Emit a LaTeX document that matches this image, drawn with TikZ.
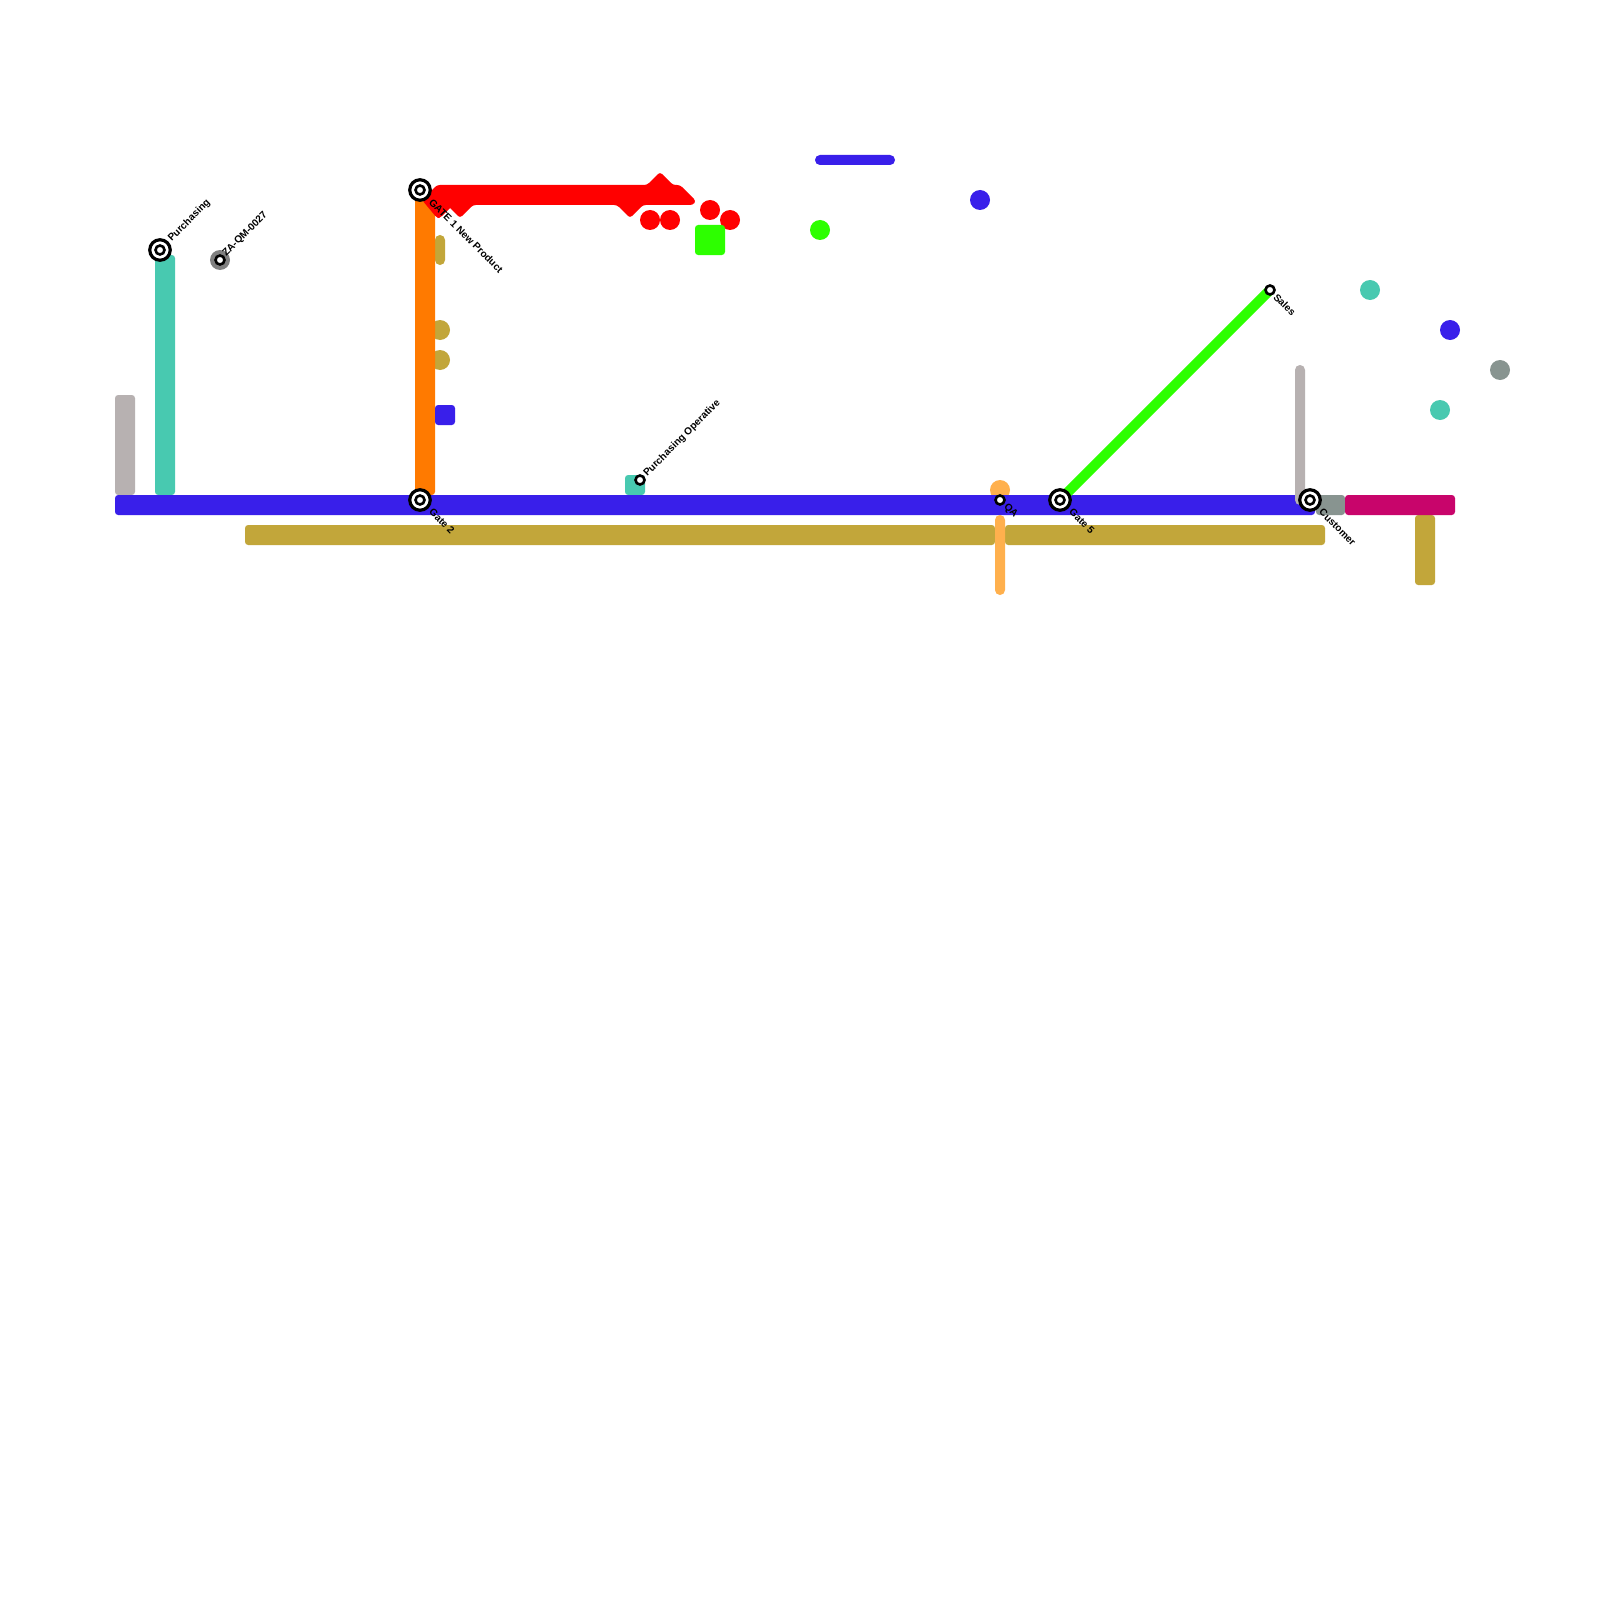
\documentclass[tikz,border=0pt]{standalone}
\usepackage{fontspec}
\setmainfont{Liberation Sans}
\definecolor{lineblue}{HTML}{391FEA}
\definecolor{lineteal}{HTML}{48C9B0}
\definecolor{linegrey}{HTML}{B7B1B1}
\definecolor{lineorange}{HTML}{FF7A00}
\definecolor{linered}{HTML}{FF0000}
\definecolor{lineolive}{HTML}{C2A63A}
\definecolor{linepeach}{HTML}{FFB04D}
\definecolor{linegreen}{HTML}{2DFF00}
\definecolor{linesage}{HTML}{889490}
\definecolor{linemagenta}{HTML}{C8056B}
\tikzset{
  bar/.style={rounded corners=0.9pt},
  thinbar/.style={rounded corners=1.4pt},
  stnring/.style={circle,draw=black,fill=white,line width=0.032cm,minimum size=0.205cm,inner sep=0pt},
  stndot/.style={circle,draw=black,fill=white,line width=0.026cm,minimum size=0.09cm,inner sep=0pt},
  stnlabel/.style={font=\bfseries\fontsize{2.85}{3.5}\selectfont,inner sep=0pt,anchor=west,text=black},
}
\newcommand{\gatestn}[2]{\node[stnring](#1)at(#2){};\node[stndot](#1dot)at(#1){};}
\begin{document}
\begin{tikzpicture}[x=0.01cm,y=-0.01cm]
\useasboundingbox(0,0)rectangle(1600,1600);
\fill[white](0,0)rectangle(1600,1600);
% bars
\fill[linegrey,bar](115,395)rectangle(135,495);
\fill[lineteal,bar](155,255)rectangle(175,495);
\fill[lineolive,bar](245,525)rectangle(995,545);
\fill[lineolive,bar](1005,525)rectangle(1325,545);
\fill[lineolive,bar](1415,515)rectangle(1435,585);
\fill[lineolive,thinbar](435,235)rectangle(445,265);
\fill[lineolive](440,330)circle[radius=10];
\fill[lineolive](440,360)circle[radius=10];
\fill[lineorange,bar](415,190)rectangle(435,495);
\fill[lineblue,bar](435,405)rectangle(455,425);
\fill[lineteal,bar](625,475)rectangle(645,495);
\fill[linepeach](1000,490)circle[radius=10];
\fill[lineblue,bar](115,495)rectangle(1315,515);
\fill[linesage,bar](1316,495)rectangle(1345,515);
\fill[linegrey,thinbar](1295,365)rectangle(1305,505);
\fill[linemagenta,bar](1345,495)rectangle(1455,515);
\fill[linepeach,thinbar](995,515)rectangle(1005,595);
\fill[lineblue,thinbar](815,155)rectangle(895,165);
% red run
\fill[linered,rounded corners=0.8pt](422,200)--(437,185)--(647,185)--(660,172)--(673,185)--(680,185)--(696,201)--(693,205)--(643,205)--(630,218)--(617,205)--(473,205)--(460,218)--(447,205)--(453,205)--(440,218)--(437,218)--cycle;
\fill[linered](650,220)circle[radius=10];
\fill[linered](670,220)circle[radius=10];
\fill[linered](710,210)circle[radius=10];
\fill[linered](730,220)circle[radius=10];
\fill[linegreen,bar](695,225)rectangle(725,255);
\fill[linegreen](820,230)circle[radius=10];
\fill[lineblue](980,200)circle[radius=10];
\fill[lineteal](1370,290)circle[radius=10];
\fill[lineblue](1450,330)circle[radius=10];
\fill[linesage](1500,370)circle[radius=10];
\fill[lineteal](1440,410)circle[radius=10];
\fill[gray](220,260)circle[radius=10];
\coordinate(gatefivepos)at(1060,500);
\coordinate(salespos)at(1270,290);
\draw[linegreen,line width=0.1cm](gatefivepos)--(salespos);
% stations
\gatestn{purchasing}{160,250}
\gatestn{gateone}{420,190}
\gatestn{gatetwo}{420,500}
\gatestn{gatefive}{gatefivepos}
\gatestn{customer}{1310,500}
\node[stndot](zaqm)at(220,260){};
\node[stndot](operative)at(640,480){};
\node[stndot](qa)at(1000,500){};
\node[stndot](sales)at(salespos){};
% labels
\node[stnlabel,rotate=45](purchasinglabel)at(169.5,240.5){Purchasing};
\node[stnlabel,rotate=45](zaqmlabel)at(224,255.5){ZA-QM-0027};
\node[stnlabel,rotate=45](operativelabel)at(645,475.5){Purchasing Operative};
\node[stnlabel,rotate=-45](gateonelabel)at(430.5,200){GATE 1 New Product};
\node[stnlabel,rotate=-45](gatetwolabel)at(430.5,510){Gate 2};
\node[stnlabel,rotate=-45](qalabel)at(1005,505){QA};
\node[stnlabel,rotate=-45](gatefivelabel)at(1070.5,510){Gate 5};
\node[stnlabel,rotate=-45](saleslabel)at(1275,295){Sales};
\node[stnlabel,rotate=-45](customerlabel)at(1320.5,510){Customer};
\end{tikzpicture}
\end{document}
